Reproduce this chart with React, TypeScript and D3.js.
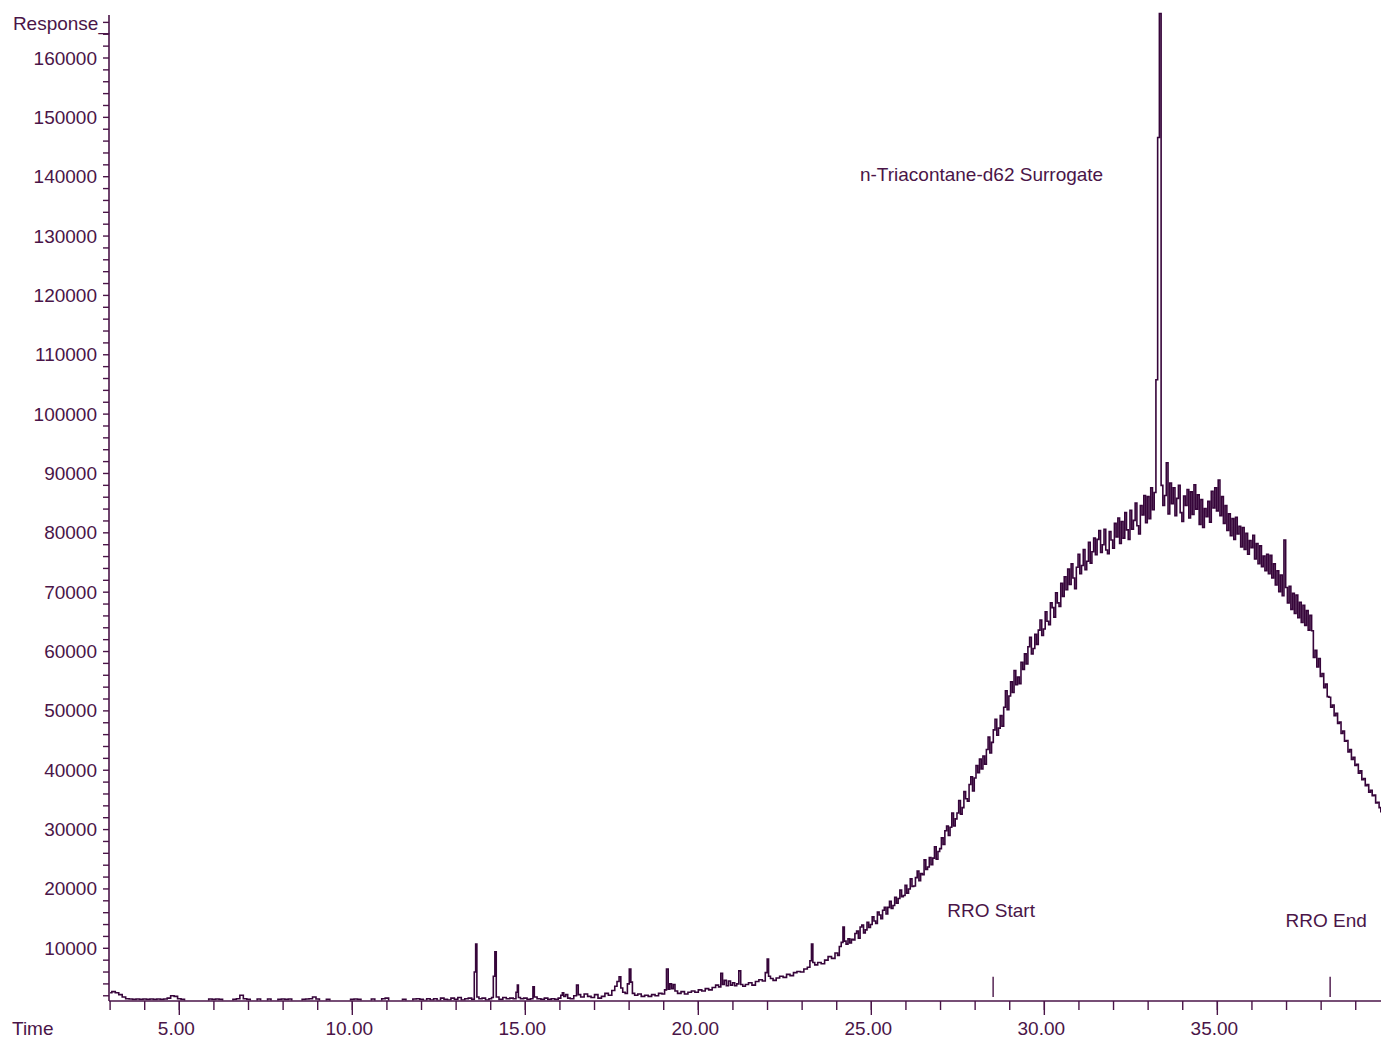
import React from 'react';
import * as d3 from 'd3';

// ---------- data (response values in thousands) ----------
const EARLY_START = 3.0;
const EARLY_STEP = 0.1;
const earlyValues = [
  2.5, 2.7, 2.5, 2.2, 1.8, 1.5, 1.45, 1.4, 1.45, 1.4,
  1.45, 1.4, 1.45, 1.4, 1.45, 1.4, 1.45, 1.6, 2.0, 1.9,
  1.5, 1.4, 0.8, 0.8, 0.8, 0.8, 0.8, 0.8, 0.9, 1.45,
  1.4, 1.45, 1.4, 0.9, 0.8, 0.8, 1.4, 1.5, 2.1, 1.5,
  1.4, 0.8, 0.9, 1.45, 0.8, 0.9, 1.45, 0.8, 0.9, 1.4,
  1.45, 1.4, 1.45, 0.8, 0.8, 0.9, 1.4, 1.45, 1.5, 1.8,
  1.45, 0.8, 0.9, 1.4, 0.8, 0.8, 0.8, 0.8, 0.8, 0.9,
  1.4, 1.45, 1.4, 0.8, 0.8, 0.9, 1.45, 0.8, 0.9, 1.5,
  1.6, 0.9, 0.8, 0.8, 0.9, 1.4, 0.9, 0.8, 1.45, 1.5,
  1.4,
];

const midPoints: [number, number][] = [
  [12.1, 1.2], [12.2, 1.5], [12.3, 1.3], [12.4, 1.5], [12.5, 1.2], [12.6, 1.6], [12.7, 1.4], [12.8, 1.3],
  [12.9, 1.6], [13.0, 1.4], [13.1, 1.7], [13.2, 1.3], [13.3, 1.5], [13.4, 1.6], [13.5, 1.4],
  [13.55, 6.0], [13.58, 10.7], [13.62, 1.8], [13.7, 1.5], [13.8, 1.6], [13.9, 1.3], [14.0, 1.5], [14.05, 1.7],
  [14.1, 5.3], [14.14, 9.4], [14.18, 1.8], [14.3, 1.4], [14.4, 1.7], [14.5, 1.5], [14.6, 1.6], [14.7, 1.5],
  [14.76, 2.6], [14.78, 3.8], [14.82, 1.7], [14.9, 1.5], [15.0, 1.6], [15.1, 1.4], [15.2, 1.5], [15.24, 3.5],
  [15.28, 1.8], [15.4, 1.5], [15.5, 1.4], [15.6, 1.6], [15.7, 1.4], [15.8, 1.5], [15.9, 1.4], [16.0, 1.6],
  [16.05, 2.1], [16.09, 2.5], [16.13, 1.9], [16.2, 2.2], [16.25, 1.6], [16.35, 1.5], [16.45, 2.0], [16.51, 3.8],
  [16.55, 2.2], [16.65, 1.8], [16.75, 2.3], [16.85, 1.9], [16.95, 1.7], [17.05, 2.2], [17.15, 1.6], [17.25, 1.9],
  [17.35, 2.4], [17.45, 2.1], [17.55, 2.9], [17.62, 3.6], [17.68, 4.4], [17.74, 5.2], [17.78, 3.3], [17.85, 2.6],
  [17.92, 2.4], [17.98, 4.0], [18.03, 6.5], [18.07, 4.3], [18.12, 2.4], [18.2, 2.1], [18.3, 2.3], [18.4, 1.9],
  [18.5, 2.1], [18.6, 1.9], [18.7, 2.2], [18.8, 2.0], [18.9, 2.4], [19.0, 2.3], [19.05, 3.0], [19.11, 6.5],
  [19.15, 3.1], [19.2, 4.0], [19.25, 3.2], [19.3, 3.9], [19.35, 2.8], [19.45, 2.4], [19.55, 2.7], [19.65, 2.3],
  [19.75, 2.6], [19.85, 2.8], [19.95, 2.6], [20.05, 3.0], [20.15, 2.8], [20.25, 3.2], [20.35, 3.0], [20.45, 3.4],
  [20.55, 3.8], [20.62, 3.5], [20.68, 5.8], [20.72, 3.9], [20.78, 4.6], [20.84, 3.7], [20.9, 4.5], [20.96, 3.8],
  [21.02, 4.2], [21.08, 3.7], [21.14, 4.0], [21.2, 6.2], [21.25, 3.9], [21.32, 3.6], [21.4, 3.9], [21.5, 4.2],
  [21.6, 3.8], [21.7, 4.4], [21.8, 4.7], [21.9, 4.5], [21.97, 5.9], [22.01, 8.2], [22.05, 5.3], [22.12, 4.9],
  [22.2, 4.6], [22.3, 5.0], [22.4, 5.3], [22.5, 5.1], [22.6, 5.6], [22.7, 5.4], [22.8, 5.9], [22.9, 6.1],
  [23.0, 6.0], [23.1, 6.5], [23.2, 6.8], [23.25, 7.9], [23.29, 10.7], [23.33, 7.6], [23.4, 7.2], [23.5, 7.6],
  [23.6, 7.4], [23.7, 8.0], [23.8, 8.6], [23.9, 8.3], [24.0, 9.2], [24.05, 8.8], [24.1, 10.3], [24.16, 11.0],
  [24.2, 13.6], [24.24, 11.2], [24.3, 10.7], [24.35, 11.6], [24.4, 10.9], [24.45, 11.5],
];

const HUMP_START = 24.5;
const HUMP_STEP = 0.05;
const humpValues = [
  11.4, 12.5, 12.9, 11.7, 13.6, // 24.50
  13.9, 12.6, 13.1, 14.4, 13.5, // 24.75
  14.0, 15.3, 14.6, 14.2, 16.1, // 25.00
  15.6, 15.0, 16.4, 16.9, 15.8, // 25.25
  16.9, 17.9, 16.7, 17.2, 18.6, // 25.50
  17.6, 18.4, 19.8, 18.7, 18.9, // 25.75
  20.6, 19.3, 20.0, 21.7, 20.4, // 26.00
  20.5, 21.9, 23.0, 21.4, 22.6, // 26.25
  22.4, 24.9, 23.3, 23.7, 25.3, // 26.50
  24.1, 25.2, 27.1, 25.0, 26.3, // 26.75
  26.8, 28.6, 27.5, 29.8, 30.6, // 27.00
  29.0, 30.4, 32.8, 30.6, 31.8, // 27.25
  32.8, 34.9, 32.6, 33.7, 36.4, // 27.50
  35.2, 34.8, 37.6, 38.9, 36.5, // 27.75
  38.7, 40.8, 39.6, 41.9, 40.2, // 28.00
  42.4, 41.0, 43.5, 45.6, 42.9, // 28.25
  44.7, 46.8, 48.6, 45.9, 47.1, // 28.50
  49.2, 47.4, 50.6, 53.4, 50.2, // 28.75
  52.5, 54.9, 53.1, 56.8, 54.4, // 29.00
  55.7, 54.6, 58.2, 57.0, 59.6, // 29.25
  57.9, 60.8, 62.4, 59.6, 60.5, // 29.50
  62.9, 61.2, 63.6, 65.3, 62.7, // 29.75
  63.8, 66.7, 65.1, 64.5, 68.2, // 30.00
  67.4, 65.8, 69.9, 68.2, 67.6, // 30.25
  71.5, 69.3, 72.6, 70.4, 73.9, // 30.50
  71.3, 74.8, 72.4, 70.6, 74.2, // 30.75
  76.4, 73.1, 74.5, 77.2, 73.8, // 31.00
  75.2, 78.4, 74.9, 76.8, 79.1, // 31.25
  76.3, 78.9, 80.4, 76.7, 78.0, // 31.50
  80.6, 77.1, 76.5, 80.2, 78.8, // 31.75
  77.4, 81.6, 79.3, 82.5, 78.2, // 32.00
  81.9, 79.1, 83.4, 80.5, 78.9, // 32.25
  83.8, 80.6, 82.1, 85.0, 81.2, // 32.50
  79.8, 84.6, 83.0, 86.3, 81.7, // 32.75
  86.1, 82.4, 87.6, 83.9, 86.8, // 33.00
  105.8, 146.6, 167.5, 88.0, 84.6, // 33.25 surrogate
  86.3, 91.8, 83.2, 88.4, 84.9, // 33.50
  87.6, 82.9, 85.8, 88.0, 83.4, // 33.75
  81.9, 86.2, 84.6, 87.3, 82.5, // 34.00
  86.9, 83.1, 88.1, 84.0, 86.4, // 34.25
  81.4, 85.6, 80.9, 84.1, 82.7, // 34.50
  85.3, 81.8, 87.0, 84.2, 87.6, // 34.75
  83.7, 88.9, 82.9, 86.1, 81.6, // 35.00
  84.6, 80.4, 83.2, 79.5, 82.4, // 35.25
  78.9, 82.6, 79.8, 81.1, 77.6, // 35.50
  80.9, 77.2, 79.9, 76.4, 78.7, // 35.75
  77.5, 79.6, 75.6, 78.2, 74.8, // 36.00
  77.8, 74.3, 76.1, 73.6, 76.4, // 36.25
  73.1, 76.2, 72.4, 74.8, 71.2, // 36.50
  73.6, 70.1, 72.9, 69.4, 78.8, // 36.75
  70.8, 68.2, 71.0, 67.1, 69.8, // 37.00
  66.4, 69.5, 65.7, 68.3, 64.9, // 37.25
  67.8, 64.4, 66.9, 63.6, 66.1, // 37.50
  63.5, 59.0, 60.2, 57.4, 58.8, // 37.75
  55.8, 56.3, 53.9, 54.5, 52.4, // 38.00
  52.3, 50.6, 51.0, 49.2, 49.6, // 38.25
  47.9, 48.1, 46.2, 46.6, 44.9, // 38.50
  45.0, 43.1, 43.5, 41.8, 42.2, // 38.75
  40.8, 41.0, 39.5, 39.9, 38.4, // 39.00
  38.6, 37.4, 37.6, 36.3, 36.6, // 39.25
  35.7, 35.8, 34.5, 34.6, 33.7, // 39.50
  33.0, // 39.75
];

const xMajorTicks = [5, 10, 15, 20, 25, 30, 35];
const xMinorTicks = d3.range(3, 40, 1);
const yMajorTicks = [10000, 20000, 30000, 40000, 50000, 60000, 70000, 80000, 90000, 100000,
  110000, 120000, 130000, 140000, 150000, 160000];
const yMinorTicks = d3.range(2000, 167000, 2000);

const markers = [
  { label: 'RRO Start', time: 28.52 },
  { label: 'RRO End', time: 38.26 },
];
const surrogateLabel = 'n-Triacontane-d62 Surrogate';

const AXIS = '#4a1548';
const TRACE = '#36053a';
const FONT = "'Liberation Sans', Arial, sans-serif";
const FS = 19;

export default function App() {
  const x = d3.scaleLinear().domain([2.968, 39.73]).range([109, 1381]);
  const y = d3.scaleLinear().domain([1120, 167245]).range([1001, 15]);

  const trace: [number, number][] = [
    ...earlyValues.map((v, i) => [EARLY_START + i * EARLY_STEP, v * 1000] as [number, number]),
    ...midPoints.map(([t, v]) => [t, v * 1000] as [number, number]),
    ...humpValues.map((v, i) => [HUMP_START + i * HUMP_STEP, v * 1000] as [number, number]),
  ];

  const line = d3
    .line<[number, number]>()
    .x((d) => x(d[0]))
    .y((d) => y(d[1]))
    .curve(d3.curveStep);

  const x0 = x.range()[0];
  const yBase = y.range()[0];
  const yTop = y.range()[1];

  return (
    <svg
      width={1381}
      height={1038}
      style={{ position: 'absolute', left: 0, top: 0, background: '#fff' }}
      fontFamily={FONT}
    >
      <defs>
        <clipPath id="plotClip">
          <rect x={x0} y={0} width={1381 - x0} height={yBase - 0.5} />
        </clipPath>
      </defs>
      <rect width={1381} height={1038} fill="#fff" />

      {/* trace */}
      <path
        d={line(trace) || ''}
        fill="none"
        stroke={TRACE}
        strokeWidth={1.6}
        clipPath="url(#plotClip)"
      />

      {/* y axis */}
      <line x1={x0} x2={x0} y1={yTop} y2={yBase} stroke={AXIS} strokeWidth={1.6} />
      {yMinorTicks.map((v) => (
        <line key={'ym' + v} x1={x0 - 6} x2={x0} y1={y(v)} y2={y(v)} stroke={AXIS} strokeWidth={1.4} />
      ))}
      {yMajorTicks.map((v) => (
        <text key={'yl' + v} x={97} y={y(v) + 6.5} textAnchor="end" fontSize={FS} fill={AXIS}>
          {v}
        </text>
      ))}
      <text x={x0} y={30} textAnchor="end" fontSize={FS} fill={AXIS}>
        Response_
      </text>

      {/* x axis */}
      <line x1={x0} x2={1381} y1={yBase} y2={yBase} stroke={AXIS} strokeWidth={1.6} />
      {xMinorTicks.map((t) => (
        <line key={'xm' + t} x1={x(t)} x2={x(t)} y1={yBase} y2={yBase + 9} stroke={AXIS} strokeWidth={1.4} />
      ))}
      {xMajorTicks.map((t) => (
        <g key={'xM' + t}>
          <line x1={x(t)} x2={x(t)} y1={yBase} y2={yBase + 14} stroke={AXIS} strokeWidth={1.4} />
          <text x={x(t) - 3} y={1035} textAnchor="middle" fontSize={FS} fill={AXIS}>
            {t.toFixed(2)}
          </text>
        </g>
      ))}
      <text x={12} y={1035} fontSize={FS} fill={AXIS}>
        Time
      </text>

      {/* annotations */}
      <text x={x(24.67)} y={y(139300)} fontSize={FS} fill={AXIS}>
        {surrogateLabel}
      </text>
      {markers.map((m, i) => (
        <g key={m.label}>
          <line x1={x(m.time)} x2={x(m.time)} y1={y(5200)} y2={y(1800)} stroke={AXIS} strokeWidth={1.4} />
          <text
            x={x(m.time) - (i === 0 ? 2 : 4)}
            y={i === 0 ? 917 : 927}
            textAnchor="middle"
            fontSize={FS}
            fill={AXIS}
          >
            {m.label}
          </text>
        </g>
      ))}
    </svg>
  );
}
